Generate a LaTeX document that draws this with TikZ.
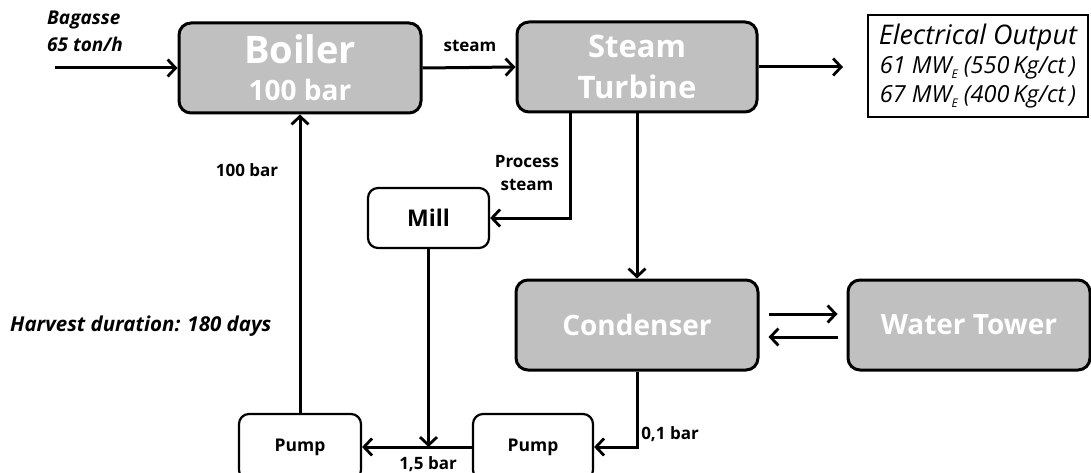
\documentclass[tikz,border=0pt]{standalone}
\usepackage{fontspec}
\setmainfont{Open Sans}
\usetikzlibrary{arrows.meta,calc}
\definecolor{boxgray}{HTML}{C0C0C0}
\newcommand{\fsz}[2]{\fontsize{#1}{#2}\selectfont}
\newcommand{\subE}{\raisebox{-0.2em}{\fsz{12}{12}E}}
\begin{document}
\begin{tikzpicture}[x=1pt,y=-1pt,
  graybox/.style={draw=black,line width=3pt,fill=boxgray,rounded corners=12pt,text=white,font=\bfseries,inner sep=0pt,align=center},
  whitebox/.style={draw=black,line width=2.2pt,fill=white,rounded corners=10pt,font=\bfseries,inner sep=0pt},
  flow/.style={line width=3pt,-{Straight Barb[length=8pt,width=17pt,line width=2.8pt]}},
  lbl/.style={font=\bfseries\fsz{17}{20},inner sep=0pt},
  ilbl/.style={font=\bfseries\itshape\fsz{19}{27},inner sep=0pt,align=left}]
\useasboundingbox (0,0) rectangle (1091,473);
\clip (0,0) rectangle (1091,473);

% main boxes
\node[graybox,minimum width=242pt,minimum height=90pt,font=\bfseries\fsz{38}{40}] (boiler) at (300,68)
  {Boiler\\[-3pt]\fsz{28}{40}100 bar};
\node[graybox,minimum width=240pt,minimum height=90pt,font=\bfseries\fsz{31}{41}] (turbine) at (637,67)
  {Steam\\Turbine};
\node[graybox,minimum width=242pt,minimum height=90pt,font=\bfseries\fsz{28}{30}] (condenser) at (637,325) {Condenser};
\node[graybox,minimum width=242pt,minimum height=90pt,font=\bfseries\fsz{28}{30}] (tower) at (969,325) {Water Tower};
\node[whitebox,minimum width=121pt,minimum height=60pt,font=\bfseries\fsz{23}{25}] (mill) at (428.5,218) {Mill};
\node[whitebox,minimum width=122pt,minimum height=66pt,font=\bfseries\fsz{17.5}{20}] (pumpL) at (300,447) {Pump};
\node[whitebox,minimum width=120pt,minimum height=66pt,font=\bfseries\fsz{17.5}{20}] (pumpR) at (533,447) {Pump};
\node[draw=black,line width=2pt,fill=white,minimum width=220pt,minimum height=102pt,inner sep=0pt,align=center,font=\itshape\fsz{24}{29}] (elec) at (978,66)
  {\fsz{27}{31}Electrical Output\\
   \fsz{23.5}{29}61 MW\subE\ (550\,Kg/ct\,)\\
   \fsz{23.5}{29}67 MW\subE\ (400\,Kg/ct\,)};

% free ends
\coordinate (bag) at (55,68);
\coordinate (out) at (843,67);

% connectors
\draw[flow] (bag) -- (boiler.west);
\draw[flow] (boiler.east) -- (turbine.west);
\draw[flow] (turbine.east) -- (out);
\draw[flow] ([xshift=-67pt]turbine.south) |- (mill.east);
\draw[flow] (turbine.south) -- (condenser.north);
\draw[flow] (condenser.south) |- (pumpR.east);
\draw[flow] (pumpR.west) -- (pumpL.east);
\draw[flow] (mill.south) -- (mill.south |- pumpL.east);
\draw[flow] (pumpL.north) -- (boiler.south);
\draw[flow] ($(condenser.east)+(9,-11)$) -- ($(tower.west)+(-9,-11)$);
\draw[flow] ($(tower.west)+(-9,12)$) -- ($(condenser.east)+(9,12)$);

% labels
\node[ilbl,anchor=west] (bagl) at (47,31) {Bagasse\\65 ton/h};
\node[lbl] (steaml) at (470,46) {steam};
\node[lbl,align=center,font=\bfseries\fsz{17}{23}] (procl) at (527,173) {Process\\steam};
\node[lbl] (bar100) at (247,170) {100 bar};
\node[lbl] (bar01) at (670,434) {0,1 bar};
\node[lbl] (bar15) at (428,464) {1,5 bar};
\node[ilbl,anchor=west,font=\bfseries\itshape\fsz{20.5}{24}] (harv) at (10,326) {Harvest duration: 180 days};
\end{tikzpicture}
\end{document}
